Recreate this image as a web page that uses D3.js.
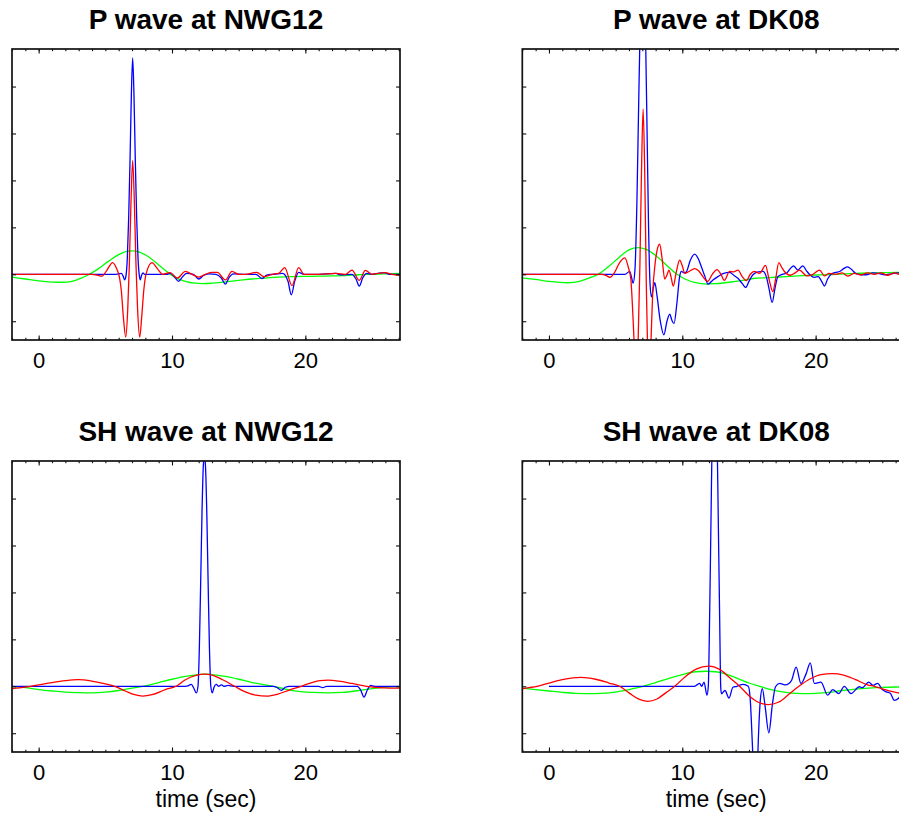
<!DOCTYPE html>
<html>
<head>
<meta charset="utf-8">
<script src="https://cdn.jsdelivr.net/npm/d3@7"></script>
<style>
    body { margin: 0; background: #fff; }
    svg { display: block; font-family: 'Liberation Sans', Arial, Helvetica, sans-serif; }
</style>
</head>
<body>
<div id="chart"></div>
<script>
const width = 899;
const height = 813;

// Axis settings
const xDomain = [-2, 27.1];
const yDomain = [-1.4, 4.8];
const xLabelTicks = [0, 10, 20];
const xMinorTicks = [-2, -1, 0, 1, 2, 3, 4, 5, 6, 7, 8, 9, 10, 11, 12, 13, 14, 15, 16, 17, 18, 19, 20, 21, 22, 23, 24, 25, 26, 27];
const yTicks = [-1, 0, 1, 2, 3, 4];

const titles = ['P wave at NWG12', 'P wave at DK08', 'SH wave at NWG12', 'SH wave at DK08'];

// P wave at NWG12 (time, amplitude)
const pNwgGreen = [[-2.0,-0.06],[-1,-0.10],[0,-0.14],[1,-0.165],[1.8,-0.17],[2.5,-0.15],[3.2,-0.08],[3.8,0.0],[4.5,0.12],[5.2,0.27],[6.0,0.42],[6.6,0.49],[7.0,0.50],[7.5,0.48],[8.2,0.38],[9.0,0.2],[9.6,0.06],[10.2,-0.06],[11,-0.15],[11.7,-0.19],[12.3,-0.2],[13,-0.19],[14,-0.16],[15,-0.13],[16,-0.1],[17,-0.08],[18,-0.06],[19,-0.05],[20,-0.045],[21,-0.04],[22,-0.035],[23,-0.03],[24,-0.01],[25,0.0],[26,0.01],[27.1,0.02]];
const pNwgBlue = [[-2,0],[5.8,0],[6.2,0.02],[6.35,-0.05],[6.45,-0.12],[6.55,-0.03],[6.65,0.35],[6.75,1.2],[6.85,2.4],[6.95,3.8],[7.05,4.61],[7.15,3.8],[7.25,2.4],[7.35,1.2],[7.45,0.35],[7.55,-0.03],[7.62,-0.12],[7.72,-0.02],[7.82,0.03],[7.95,0.0],[9.6,0],[9.9,0.02],[10.2,-0.06],[10.5,-0.15],[10.8,-0.05],[11.1,0.02],[11.6,0.0],[12.0,-0.1],[12.4,-0.02],[12.8,0.01],[13.3,0.0],[13.7,-0.08],[14.0,-0.21],[14.3,-0.06],[14.6,0.01],[15.5,0.0],[16.3,0.0],[16.75,-0.09],[17.1,-0.02],[17.6,0.0],[18.3,0.02],[18.7,-0.15],[18.95,-0.44],[19.2,-0.15],[19.5,0.04],[19.9,0.0],[21,0],[22.3,0.02],[22.6,-0.01],[23.5,0.0],[23.8,-0.1],[24.05,-0.25],[24.3,-0.08],[24.6,0.02],[25,0],[25.9,0.035],[26.3,0.0],[27.1,0.0]];
const pNwgRed = [[-2,0],[4.0,0],[4.4,-0.02],[4.75,-0.04],[5.1,0.08],[5.55,0.25],[5.85,0.12],[6.05,-0.05],[6.2,-0.35],[6.35,-0.9],[6.53,-1.34],[6.68,-0.75],[6.8,0.2],[6.92,1.5],[7.05,2.42],[7.18,1.5],[7.3,0.2],[7.42,-0.75],[7.58,-1.34],[7.73,-0.9],[7.88,-0.35],[8.05,0.0],[8.5,0.25],[8.9,0.12],[9.3,0.0],[9.85,0.035],[10.4,-0.08],[11.0,0.06],[11.5,0.0],[12.0,-0.06],[12.5,0.0],[13.0,0.04],[13.4,0.04],[14.0,-0.12],[14.5,0.06],[15.0,0.0],[15.5,0.0],[16.35,0.04],[16.9,-0.05],[17.5,0.0],[18.0,0.02],[18.45,0.14],[19.0,-0.24],[19.5,0.14],[19.9,0.0],[21,0],[22.3,0.02],[23.0,0.0],[23.5,0.09],[24.05,-0.13],[24.5,0.085],[25.0,0.0],[26.0,0.035],[26.5,0.0],[27.1,-0.02]];

// P wave at DK08
const pDkGreen = [[-2.2,-0.07],[-1,-0.11],[0,-0.15],[1.4,-0.18],[2.3,-0.15],[3.0,-0.08],[3.7,0.0],[4.5,0.17],[5.3,0.37],[6.0,0.52],[6.7,0.57],[7.3,0.53],[8.0,0.4],[8.8,0.2],[9.5,0.02],[10.2,-0.1],[11.0,-0.18],[11.8,-0.21],[12.5,-0.2],[13.5,-0.17],[14.5,-0.13],[15.3,-0.09],[16.5,-0.07],[17.8,-0.05],[19,-0.03],[20,-0.015],[21.5,0.0],[23,0.02],[24.5,0.03],[26.2,0.04],[27.1,0.04]];
const pDkBlue = [[-2.2,0],[5.7,0],[6.06,0.06],[6.18,-0.05],[6.31,-0.19],[6.45,0.1],[6.6,1.6],[6.72,3.5],[6.82,5.0],[6.95,5.9],[7.05,6.1],[7.15,5.8],[7.26,4.8],[7.36,3.0],[7.47,1.0],[7.58,-0.2],[7.69,-0.48],[7.82,-0.3],[7.94,-0.18],[8.1,-0.45],[8.35,-1.0],[8.62,-1.29],[8.85,-1.0],[9.06,-0.85],[9.22,-0.98],[9.38,-1.05],[9.6,-0.6],[9.8,-0.05],[9.93,0.06],[10.15,0.03],[10.3,0.05],[10.6,0.3],[10.93,0.43],[11.2,0.33],[11.43,0.16],[11.7,-0.05],[11.93,-0.21],[12.3,-0.12],[12.67,-0.05],[13.1,0.02],[13.55,0.04],[13.9,-0.03],[14.17,-0.085],[14.5,-0.2],[14.75,-0.28],[15.0,-0.15],[15.3,-0.01],[15.7,0.05],[16.05,0.06],[16.3,-0.05],[16.5,-0.3],[16.74,-0.6],[16.95,-0.3],[17.17,-0.05],[17.5,0.0],[17.8,0.02],[18.1,0.12],[18.34,0.18],[18.66,0.09],[19.04,0.18],[19.3,0.08],[19.6,-0.02],[19.9,-0.065],[20.2,-0.05],[20.45,-0.15],[20.66,-0.25],[20.9,-0.1],[21.16,0.0],[21.5,0.04],[21.8,0.06],[22.1,0.12],[22.4,0.16],[22.7,0.1],[23.0,0.02],[23.4,-0.01],[23.8,-0.01],[24.3,0.03],[24.7,0.02],[25.2,-0.01],[25.7,0.01],[26.2,0.03],[26.6,0.0],[27.1,0.02]];
const pDkRed = [[-2.2,0],[4.0,0],[4.3,-0.03],[4.57,-0.065],[4.9,0.03],[5.3,0.25],[5.69,0.35],[5.95,0.15],[6.14,-0.1],[6.3,-0.9],[6.45,-1.8],[6.55,-2.1],[6.68,-1.5],[6.82,0.2],[6.94,2.2],[7.06,3.52],[7.18,2.2],[7.3,-0.2],[7.42,-1.9],[7.52,-2.3],[7.63,-1.6],[7.78,-0.4],[7.95,0.2],[8.1,0.5],[8.3,0.64],[8.48,0.35],[8.68,-0.1],[8.84,-0.02],[9.0,0.09],[9.15,-0.05],[9.32,-0.25],[9.55,0.05],[9.8,0.3],[10.0,0.18],[10.18,0.02],[10.5,0.06],[10.93,0.12],[11.2,0.08],[11.55,-0.05],[11.9,-0.15],[12.25,0.0],[12.6,0.1],[12.9,0.0],[13.15,-0.13],[13.55,0.06],[13.85,0.05],[14.17,0.09],[14.5,-0.05],[14.8,-0.135],[15.1,0.0],[15.4,0.06],[15.8,0.02],[16.24,0.19],[16.5,-0.1],[16.79,-0.37],[17.0,-0.1],[17.24,0.25],[17.45,0.15],[17.66,0.06],[18.1,-0.02],[18.4,0.02],[18.79,0.09],[19.34,-0.035],[19.8,0.0],[20.3,0.09],[20.66,-0.035],[21.0,0.02],[21.5,0.0],[22.0,0.03],[22.4,-0.04],[22.9,0.02],[23.4,-0.01],[23.9,0.03],[24.4,0.0],[24.9,0.03],[25.4,-0.02],[25.9,0.03],[26.3,0.0],[27.1,0.02]];

// SH wave at NWG12
const shNwgGreen = [[-2.0,0.0],[-1,-0.03],[0,-0.07],[1,-0.1],[2,-0.125],[3,-0.135],[4,-0.14],[5,-0.125],[6,-0.09],[7,-0.04],[7.8,0.0],[9,0.08],[10,0.15],[11,0.21],[12,0.25],[12.5,0.26],[13,0.25],[14,0.21],[15,0.15],[16,0.08],[17,0.03],[17.6,0.0],[18.5,-0.06],[19.5,-0.11],[20.5,-0.13],[21.7,-0.14],[22.8,-0.13],[24,-0.09],[25,-0.05],[26,-0.02],[27.1,0.0]];
const shNwgBlue = [[-2,0],[11.0,0],[11.2,0.01],[11.45,0.04],[11.6,-0.02],[11.83,-0.14],[11.95,0.0],[12.05,0.8],[12.15,2.2],[12.25,3.7],[12.35,4.7],[12.43,4.9],[12.51,4.7],[12.61,3.7],[12.71,2.2],[12.81,0.8],[12.91,0.0],[13.02,-0.14],[13.15,-0.02],[13.33,0.04],[13.5,0.0],[13.7,0.03],[13.9,0.0],[14.2,0.02],[14.6,0.0],[17.6,0.0],[17.9,-0.03],[18.2,-0.085],[18.5,-0.02],[18.8,0.0],[21.0,0.0],[21.3,-0.03],[21.6,0.0],[23.9,0.0],[24.15,-0.08],[24.4,-0.23],[24.65,-0.08],[24.9,0.02],[25.2,0.0],[27.1,0.0]];
const shNwgRed = [[-2.0,-0.05],[-1,-0.02],[0,0.03],[1,0.08],[2,0.12],[2.95,0.14],[4,0.11],[5,0.05],[5.7,0.0],[6.5,-0.1],[7.2,-0.18],[7.8,-0.21],[8.5,-0.18],[9.5,-0.07],[10.3,0.0],[11,0.14],[11.8,0.23],[12.45,0.26],[13,0.24],[13.8,0.14],[14.7,0.0],[15.5,-0.12],[16.3,-0.19],[17.1,-0.21],[17.9,-0.17],[18.8,-0.08],[19.7,0.0],[20.5,0.08],[21.1,0.12],[21.7,0.13],[22.5,0.11],[23.5,0.06],[24.6,0.0],[25.5,-0.03],[26.3,-0.04],[27.1,-0.04]];

// SH wave at DK08
const shDkGreen = [[-2.2,-0.035],[-1,-0.07],[0,-0.1],[1,-0.13],[2,-0.15],[3.3,-0.155],[4.5,-0.14],[5.5,-0.1],[6.3,-0.05],[7.06,0.0],[8,0.08],[9,0.17],[10,0.25],[11,0.31],[11.8,0.32],[12.5,0.31],[13.3,0.26],[14.2,0.16],[15,0.07],[15.8,0.0],[16.5,-0.06],[17.3,-0.11],[18.2,-0.145],[19,-0.155],[20,-0.15],[21,-0.13],[22,-0.09],[23,-0.06],[24,-0.04],[25,-0.025],[26.2,-0.015],[27.1,-0.01]];
const shDkBlue = [[0,0],[10.9,0],[11.1,0.03],[11.3,0.06],[11.45,0.0],[11.63,0.09],[11.85,-0.19],[11.95,0.0],[12.05,1.5],[12.15,3.5],[12.25,5.5],[12.42,6.8],[12.6,5.5],[12.7,3.5],[12.8,1.5],[12.88,0.0],[12.93,-0.16],[13.2,-0.09],[13.5,-0.25],[13.8,-0.02],[14.1,0.0],[14.55,0.04],[14.95,0.0],[15.1,-0.3],[15.25,-1.2],[15.4,-2.2],[15.5,-2.4],[15.6,-2.0],[15.72,-1.0],[15.85,-0.3],[16.0,-0.05],[16.2,-0.4],[16.49,-0.99],[16.75,-0.4],[16.99,-0.01],[17.3,0.06],[17.7,0.03],[18.0,0.06],[18.2,0.13],[18.54,0.41],[18.9,0.06],[19.29,0.27],[19.6,0.5],[19.9,0.06],[20.4,0.09],[20.9,-0.19],[21.28,-0.07],[21.73,-0.155],[22.15,0.0],[22.65,-0.155],[23.28,-0.01],[23.5,-0.03],[23.98,0.09],[24.3,0.02],[24.65,0.06],[25.0,-0.07],[25.3,-0.12],[25.6,-0.15],[25.9,-0.3],[26.2,-0.26],[26.6,-0.1],[27.1,-0.05]];
const shDkRed = [[-2.2,-0.065],[-1.5,-0.03],[-0.9,0.0],[0,0.07],[1,0.14],[2.4,0.19],[3.5,0.15],[4.5,0.07],[5.3,0.0],[6.0,-0.14],[6.7,-0.27],[7.4,-0.32],[8.1,-0.27],[8.8,-0.13],[9.43,0.0],[10.2,0.2],[11.0,0.36],[12.0,0.43],[12.8,0.36],[13.6,0.17],[14.3,0.0],[15.0,-0.2],[15.7,-0.34],[16.45,-0.39],[17.2,-0.34],[18.0,-0.17],[18.75,0.0],[19.6,0.16],[20.4,0.25],[21.25,0.27],[22.1,0.24],[23.0,0.14],[23.9,0.03],[24.4,0.0],[25.2,-0.07],[26.2,-0.14],[27.1,-0.17]];

const seriesColors = { green: '#00ff00', blue: '#0000ff', red: '#ff0000' };

// Panel layout (pixel boxes)
const panels = [
    { title: titles[0], left: 12, top: 49, lines: { green: pNwgGreen, blue: pNwgBlue, red: pNwgRed }, xLabel: false },
    { title: titles[1], left: 522.3, top: 49, lines: { green: pDkGreen, blue: pDkBlue, red: pDkRed }, xLabel: false },
    { title: titles[2], left: 12, top: 461, lines: { green: shNwgGreen, blue: shNwgBlue, red: shNwgRed }, xLabel: true },
    { title: titles[3], left: 522.3, top: 461, lines: { green: shDkGreen, blue: shDkBlue, red: shDkRed }, xLabel: true }
];
const plotWidth = 388;
const plotHeight = 291;

const svg = d3.select('#chart')
    .append('svg')
    .attr('width', width)
    .attr('height', height)
    .style('overflow', 'hidden');

panels.forEach((p, i) => {
    const g = svg.append('g')
        .attr('transform', `translate(${p.left},${p.top})`);

    const x = d3.scaleLinear().domain(xDomain).range([0, plotWidth]);
    const y = d3.scaleLinear().domain(yDomain).range([plotHeight, 0]);

    // Clip lines to the plot box
    const clipId = `clip-${i}`;
    g.append('clipPath')
        .attr('id', clipId)
        .append('rect')
        .attr('width', plotWidth)
        .attr('height', plotHeight);

    const line = d3.line()
        .x(d => x(d[0]))
        .y(d => y(d[1]))
        .curve(d3.curveMonotoneX);

    const lines = g.append('g').attr('clip-path', `url(#${clipId})`);
    ['green', 'blue', 'red'].forEach(key => {
        lines.append('path')
            .datum(p.lines[key])
            .attr('fill', 'none')
            .attr('stroke', seriesColors[key])
            .attr('stroke-width', 1.3)
            .attr('stroke-linejoin', 'round')
            .attr('d', line);
    });

    // Minor x ticks (bottom & top), inward
    g.append('g')
        .attr('transform', `translate(0,${plotHeight})`)
        .call(d3.axisBottom(x).tickValues(xMinorTicks).tickSize(-2.2).tickFormat(''));
    g.append('g')
        .call(d3.axisTop(x).tickValues(xMinorTicks).tickSize(-2.2).tickFormat(''));

    // Major x ticks with labels
    const xAxis = g.append('g')
        .attr('class', 'x-axis')
        .attr('transform', `translate(0,${plotHeight})`)
        .call(d3.axisBottom(x).tickValues(xLabelTicks).tickSize(-4.5).tickPadding(12).tickFormat(d3.format('d')));
    xAxis.selectAll('text')
        .attr('font-size', 22)
        .attr('font-family', "'Liberation Sans', Arial, sans-serif")
        .attr('fill', '#000');
    g.append('g')
        .call(d3.axisTop(x).tickValues(xLabelTicks).tickSize(-4.5).tickFormat(''));

    // Y ticks left & right, inward, no labels
    g.append('g')
        .call(d3.axisLeft(y).tickValues(yTicks).tickSize(-4).tickFormat(''));
    g.append('g')
        .attr('transform', `translate(${plotWidth},0)`)
        .call(d3.axisRight(y).tickValues(yTicks).tickSize(-4).tickFormat(''));

    g.selectAll('.domain').remove();
    g.selectAll('.tick line').attr('stroke', '#111').attr('stroke-width', 1.1);

    // Frame
    g.append('rect')
        .attr('width', plotWidth)
        .attr('height', plotHeight)
        .attr('fill', 'none')
        .attr('stroke', '#111')
        .attr('stroke-width', 1.7);

    // Title
    g.append('text')
        .attr('x', plotWidth / 2)
        .attr('y', -20)
        .attr('text-anchor', 'middle')
        .attr('font-size', 28)
        .attr('font-weight', 'bold')
        .attr('fill', '#000')
        .text(p.title);

    if (p.xLabel) {
        g.append('text')
            .attr('x', plotWidth / 2)
            .attr('y', plotHeight + 55)
            .attr('text-anchor', 'middle')
            .attr('font-size', 23)
            .attr('fill', '#000')
            .text('time (sec)');
    }
});
</script>
</body>
</html>
